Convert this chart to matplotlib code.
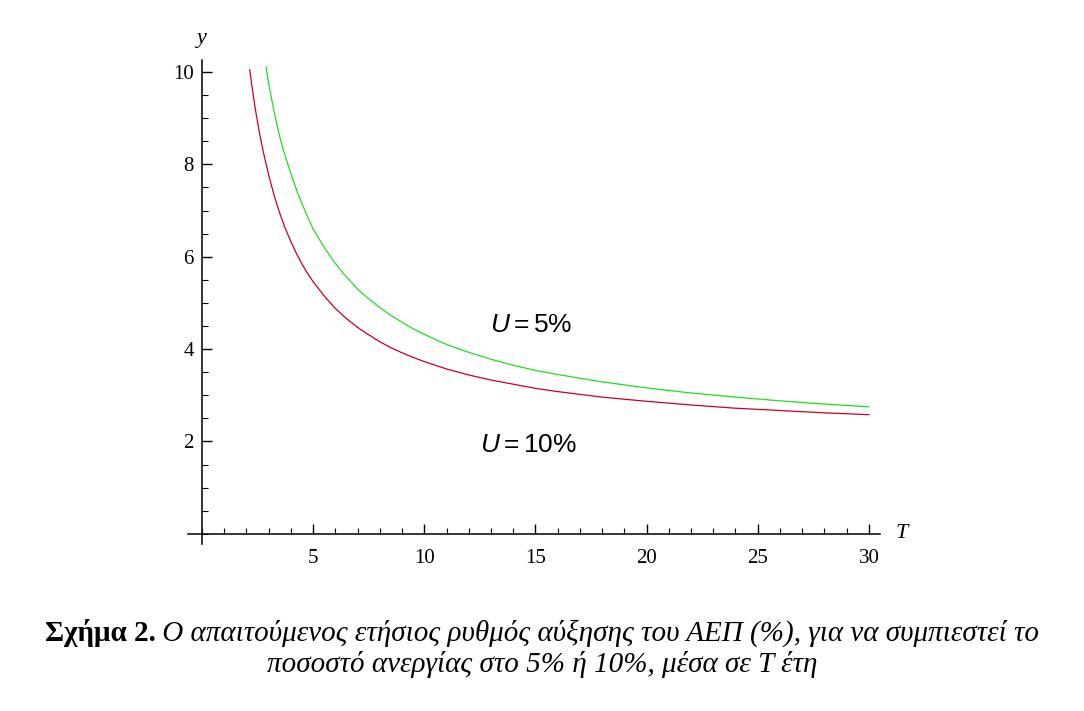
import numpy as np
import matplotlib
matplotlib.use("Agg")
import matplotlib.pyplot as plt
from matplotlib import font_manager
from matplotlib.ticker import MultipleLocator

plt.rcParams['font.family'] = ['Liberation Serif', 'DejaVu Serif']

# narrow sans for the U labels if there is one
lab_font = 'Liberation Sans'
try:
    font_manager.findfont('Liberation Sans Narrow', fallback_to_default=False)
    lab_font = 'Liberation Sans Narrow'
except Exception:
    pass
plt.rcParams['mathtext.fontset'] = 'custom'
plt.rcParams['mathtext.rm'] = lab_font
plt.rcParams['mathtext.it'] = lab_font + ':italic'

# values: years T and required growth y (%)
T_u10 = [2.15, 2.2, 2.3, 2.4, 2.5, 2.6, 2.75, 3.0, 3.25, 3.5, 3.75, 4.0,
         4.25, 4.5, 4.75, 5.0, 5.5, 6.0, 6.5, 7.0, 7.5, 8.0, 8.5, 9.0, 9.5,
         10.0, 11.0, 12.0, 13.0, 14.0, 15.0, 16.0, 18.0, 20.0, 22.0, 24.0,
         26.0, 28.0, 30.0]
y_u10 = [10.05, 9.86, 9.52, 9.2, 8.92, 8.65, 8.29, 7.77, 7.32, 6.94, 6.61,
         6.33, 6.07, 5.84, 5.64, 5.46, 5.15, 4.88, 4.66, 4.47, 4.31, 4.16,
         4.03, 3.92, 3.82, 3.73, 3.57, 3.44, 3.33, 3.24, 3.15, 3.08, 2.96,
         2.87, 2.79, 2.72, 2.67, 2.62, 2.58]

T_u5 = [2.88, 2.95, 3.0, 3.1, 3.25, 3.4, 3.5, 3.6, 3.75, 3.9, 4.0, 4.25,
        4.5, 4.75, 5.0, 5.5, 6.0, 6.5, 7.0, 7.5, 8.0, 8.5, 9.0, 9.5, 10.0,
        11.0, 12.0, 13.0, 14.0, 15.0, 16.0, 18.0, 20.0, 22.0, 24.0, 26.0,
        28.0, 30.0]
y_u5 = [10.1, 9.9, 9.75, 9.5, 9.13, 8.8, 8.6, 8.42, 8.17, 7.95, 7.8, 7.45,
        7.15, 6.86, 6.6, 6.2, 5.85, 5.56, 5.3, 5.09, 4.9, 4.73, 4.58, 4.44,
        4.32, 4.1, 3.93, 3.78, 3.65, 3.54, 3.45, 3.29, 3.16, 3.05, 2.96,
        2.88, 2.81, 2.75]

fig = plt.figure(figsize=(10.84, 7.11), dpi=100)
ax = fig.add_axes([0.1734, 0.2349, 0.6384, 0.6807])

ax.plot(T_u10, y_u10, color='#cc0022', lw=0.9)
ax.plot(T_u5, y_u5, color='#22dd22', lw=0.9)

ax.set_xlim(-0.63, 30.5)
ax.set_ylim(-0.22, 10.26)

ax.spines['left'].set_position(('data', 0))
ax.spines['bottom'].set_position(('data', 0))
ax.spines['top'].set_visible(False)
ax.spines['right'].set_visible(False)
for s in ('left', 'bottom'):
    ax.spines[s].set_linewidth(1.1)

ax.xaxis.set_minor_locator(MultipleLocator(1))
ax.yaxis.set_minor_locator(MultipleLocator(0.5))
ax.set_xticks([5, 10, 15, 20, 25, 30])
ax.set_yticks([2, 4, 6, 8, 10])
ax.tick_params(axis='x', which='major', direction='in', length=7, width=1,
               pad=11, labelsize=15)
ax.tick_params(axis='y', which='major', direction='in', length=7, width=1,
               pad=6, labelsize=15)
ax.tick_params(which='minor', direction='in', length=4, width=0.8)

ax.text(0, 10.72, 'y', ha='center', va='center', fontsize=16, style='italic')
ax.text(31.5, 0.0, 'T', ha='center', va='center', fontsize=16, style='italic')

lab_size = 22 if lab_font.endswith('Narrow') else 19
ax.text(14.8, 4.5, r'$U = 5\%$', ha='center', va='center', fontsize=lab_size)
ax.text(14.7, 1.9, r'$U = 10\%$', ha='center', va='center', fontsize=lab_size)

# caption: bold figure number, italic rest
cap_bold = 'Σχήμα 2.'
cap_it1 = ' Ο απαιτούμενος ετήσιος ρυθμός αύξησης του ΑΕΠ (%), για να συμπιεστεί το'
cap_it2 = 'ποσοστό ανεργίας στο 5% ή 10%, μέσα σε Τ έτη'

fig.canvas.draw()
r = fig.canvas.get_renderer()
tb = fig.text(0, 0, cap_bold, fontsize=21, weight='bold', va='center')
ti = fig.text(0, 0, cap_it1, fontsize=21, style='italic', va='center')
wb = tb.get_window_extent(r).width
wi = ti.get_window_extent(r).width
x0 = (1084 - wb - wi) / 2
tb.set_position((x0 / 1084, 1 - 633 / 711))
ti.set_position(((x0 + wb) / 1084, 1 - 633 / 711))
fig.text(0.5, 1 - 665 / 711, cap_it2, fontsize=21, style='italic',
         ha='center', va='center')

fig.savefig('out.png', dpi=100)
